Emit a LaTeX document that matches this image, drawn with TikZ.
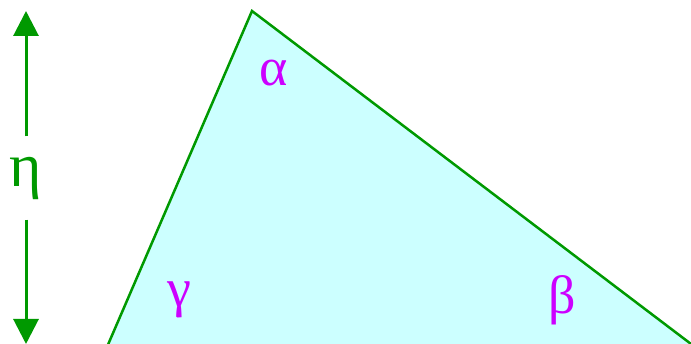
\documentclass[tikz,border=0pt]{standalone}
\usepackage{fontspec}
\setmainfont{Liberation Serif}
\usetikzlibrary{arrows.meta}
\definecolor{edgegreen}{HTML}{009900}
\definecolor{anglemag}{HTML}{CC00FF}
\definecolor{facecyan}{HTML}{CCFFFF}
\tikzset{
  angle/.style={text=anglemag, font=\fontsize{54}{56}\selectfont, inner sep=0pt},
  height/.style={edgegreen, line width=3pt, -{Triangle[width=25pt,length=25pt]}}
}
\begin{document}
\begin{tikzpicture}[x=1pt, y=-1pt]
    \useasboundingbox (0,0) rectangle (691,344);
    % Tam giác
    \coordinate (A) at (252,11);
    \coordinate (B) at (695,347);
    \coordinate (C) at (107,347);
    \filldraw[fill=facecyan, draw=edgegreen, line width=2.5pt, line join=miter] (A) -- (B) -- (C) -- cycle;

    % Các góc
    \node[angle] (alpha) at (274,73) {α};
    \node[angle] (beta) at (562,300) {β};
    \node[angle] (gamma) at (179,300) {γ};

    % Chiều cao
    \coordinate (top) at (26,11);
    \coordinate (bot) at (26,344);
    \node[text=edgegreen, font=\fontsize{62}{64}\selectfont, inner sep=0pt, minimum height=83pt] (eta) at (26,178) {η};
    \draw[height] (eta.north) -- (top);
    \draw[height] (eta.south) -- (bot);
\end{tikzpicture}
\end{document}
